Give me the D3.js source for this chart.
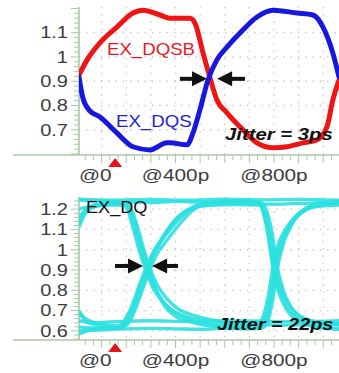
<!DOCTYPE html>
<html>
<head>
<meta charset="utf-8">
<script src="https://cdn.jsdelivr.net/npm/d3@7"></script>
<style>
  body { margin: 0; background: #fff; }
  svg { display: block; }
</style>
</head>
<body>
<svg id="chart" width="339" height="373"></svg>
<script>
// ---- time axis (ps) ----
const timeTicks = [0, 400, 800];
const timeTickLabels = ["@0", "@400p", "@800p"];
const markerTime = 155;

// ---- strobe panel (EX_DQS / EX_DQSB), volts ----
const strobeTicks = [1.1, 1.0, 0.9, 0.8, 0.7];
const strobeTickLabels = ["1.1", "1", "0.9", "0.8", "0.7"];

const dqsb = [
  [8, 0.926], [41, 0.988], [93, 1.058], [162, 1.123], [227, 1.181], [268, 1.193],
  [337, 1.173], [378, 1.16], [459, 1.16], [479, 1.14], [512, 1.016], [540, 0.914],
  [568, 0.823], [609, 0.77], [674, 0.70], [731, 0.646], [796, 0.626], [853, 0.63],
  [918, 0.646], [974, 0.658], [1015, 0.712], [1039, 0.823], [1064, 0.905]
];
const dqs = [
  [8, 0.918], [24, 0.83], [50, 0.78], [93, 0.753], [162, 0.687], [227, 0.630],
  [296, 0.617], [365, 0.646], [378, 0.646], [447, 0.638], [471, 0.687], [499, 0.782],
  [532, 0.905], [568, 0.988], [609, 1.041], [662, 1.099], [731, 1.165], [796, 1.193],
  [893, 1.181], [958, 1.173], [999, 1.123], [1039, 1.016], [1064, 0.918]
];
const strobeArrowTimes = [[418, 528], [682, 569]];
const strobeArrowLevel = 0.91;

// ---- data panel (EX_DQ eye), volts ----
const dataTicks = [1.2, 1.1, 1.0, 0.9, 0.8, 0.7, 0.6];
const dataTickLabels = ["1.2", "1.1", "1", "0.9", "0.8", "0.7", "0.6"];

const dqTraces = [
  [[8,1.13],[30,1.19],[70,1.22],[130,1.232],[193,1.228],[213,1.2],[238,1.1],[263,0.99],[288,0.9],[318,0.81],[353,0.74],[398,0.69],[468,0.65],[548,0.63],[650,0.622],[740,0.622],[760,0.65],[784,0.76],[804,0.92],[829,1.04],[854,1.1],[884,1.16],[924,1.2],[964,1.222],[1064,1.235]],
  [[8,0.69],[30,0.655],[80,0.628],[140,0.62],[186,0.62],[211,0.64],[241,0.72],[271,0.82],[296,0.9],[326,0.98],[361,1.04],[406,1.11],[466,1.19],[526,1.225],[650,1.242],[734,1.238],[756,1.19],[778,1.08],[798,0.92],[823,0.8],[848,0.73],[878,0.68],[918,0.645],[968,0.625],[1064,0.61]],
  [[8,1.245],[100,1.24],[200,1.235],[300,1.232],[400,1.238],[500,1.235],[600,1.24],[700,1.236],[749,1.232],[771,1.19],[793,1.08],[813,0.92],[838,0.8],[863,0.73],[893,0.685],[933,0.655],[983,0.64],[1064,0.63]],
  [[8,0.6],[100,0.605],[200,0.61],[300,0.612],[400,0.61],[500,0.608],[600,0.612],[700,0.61],[745,0.612],[765,0.645],[789,0.76],[809,0.92],[834,1.04],[859,1.1],[889,1.155],[929,1.195],[969,1.215],[1064,1.23]],
  [[8,1.11],[35,1.18],[80,1.215],[140,1.225],[184,1.222],[204,1.2],[229,1.1],[254,0.99],[279,0.9],[309,0.81],[344,0.75],[389,0.7],[459,0.665],[539,0.645],[700,0.632],[850,0.628],[1000,0.632],[1064,0.63]],
  [[8,0.585],[40,0.6],[100,0.615],[172,0.62],[197,0.645],[227,0.72],[257,0.82],[282,0.9],[312,0.98],[347,1.05],[392,1.12],[452,1.19],[512,1.22],[650,1.228],[800,1.225],[950,1.23],[1064,1.228]],
  [[8,1.2],[60,1.215],[150,1.22],[204,1.22],[224,1.19],[249,1.1],[274,0.99],[299,0.9],[329,0.82],[364,0.76],[409,0.71],[479,0.675],[569,0.65],[650,0.64],[732,0.64],[754,0.665],[776,0.77],[796,0.92],[821,1.04],[846,1.1],[876,1.15],[916,1.19],[956,1.21],[1064,1.22]],
  [[8,0.7],[25,0.67],[60,0.645],[120,0.63],[166,0.625],[191,0.65],[221,0.72],[251,0.82],[276,0.9],[306,0.98],[341,1.05],[386,1.13],[446,1.195],[506,1.215],[650,1.222],[742,1.22],[764,1.18],[786,1.08],[806,0.92],[831,0.8],[856,0.74],[886,0.69],[926,0.66],[976,0.645],[1064,0.635]],
  [[8,1.25],[150,1.245],[300,1.248],[450,1.244],[600,1.25],[750,1.246],[900,1.248],[1064,1.245]],
  [[8,0.65],[60,0.64],[150,0.645],[300,0.65],[450,0.647],[600,0.65],[750,0.648],[900,0.645],[1064,0.65]],
  [[8,1.16],[40,1.2],[90,1.225],[150,1.23],[197,1.228],[217,1.2],[242,1.1],[267,0.99],[292,0.9],[322,0.8],[357,0.72],[402,0.67],[472,0.64],[552,0.622],[680,0.615],[752,0.615],[774,0.645],[796,0.76],[816,0.92],[841,1.04],[866,1.11],[896,1.17],[936,1.21],[976,1.232],[1064,1.24]],
  [[8,0.62],[60,0.615],[130,0.615],[175,0.615],[200,0.635],[230,0.71],[260,0.81],[285,0.9],[315,0.99],[350,1.06],[395,1.14],[455,1.2],[515,1.228],[660,1.238],[730,1.235],[752,1.2],[774,1.08],[794,0.92],[819,0.79],[844,0.72],[874,0.67],[914,0.64],[964,0.62],[1064,0.608]]
];
const dataArrowTimes = [[154, 268], [410, 305]];
const dataArrowLevel = 0.92;

const jitterLabels = ["Jitter = 3ps", "Jitter = 22ps"];

// ---- layout ----
const svg = d3.select("#chart");
const axisColor = "#a9c8a4";
const gridColor = "#c9c4c4";
const x = d3.scaleLinear().domain([8, 1064]).range([79, 339]);
const x0 = x.range()[0], x1 = x.range()[1];

const panels = [
  { id: "strobe", top: 7, bottom: 155, domain: [0.596, 1.206], ticks: strobeTicks, labels: strobeTickLabels },
  { id: "data", top: 197, bottom: 340, domain: [0.555, 1.26], ticks: dataTicks, labels: dataTickLabels }
];
panels.forEach(p => {
  p.y = d3.scaleLinear().domain(p.domain).range([p.bottom, p.top]);
});

// text stretched horizontally around its anchor point
function stretchedText(parent, px, py, str, o) {
  return parent.append("g")
    .attr("transform", `translate(${px},${py}) scale(${o.sx},1)`)
    .append("text")
    .attr("text-anchor", o.anchor || "start")
    .attr("dy", o.dy || 0)
    .style("font-family", "'Liberation Sans', Arial, sans-serif")
    .style("font-size", (o.size || 16) + "px")
    .style("font-weight", o.weight || "normal")
    .style("font-style", o.italic ? "italic" : "normal")
    .attr("fill", o.fill || "#3c3c3c")
    .text(str);
}

function drawFrame(p) {
  const g = svg.append("g");
  const y = p.y;

  // dotted grid
  g.selectAll(".hgrid").data(p.ticks).join("line")
    .attr("x1", x0).attr("x2", x1)
    .attr("y1", d => y(d)).attr("y2", d => y(d))
    .attr("stroke", gridColor).attr("stroke-width", 1.3)
    .attr("stroke-dasharray", "1.3,6");
  g.selectAll(".vgrid").data(d3.range(100, 1064, 100)).join("line")
    .attr("x1", d => x(d)).attr("x2", d => x(d))
    .attr("y1", p.top).attr("y2", p.bottom)
    .attr("stroke", gridColor).attr("stroke-width", 1.3)
    .attr("stroke-dasharray", "1.3,6");

  // y axis with fine ticks
  g.append("line").attr("x1", x0).attr("x2", x0).attr("y1", p.top).attr("y2", p.bottom)
    .attr("stroke", axisColor).attr("stroke-width", 1.6);
  const yMinor = d3.range(Math.ceil(p.domain[0] * 50) / 50, p.domain[1], 0.02);
  g.selectAll(".ytick").data(yMinor).join("line")
    .attr("x1", d => Math.abs(d * 10 - Math.round(d * 10)) < 1e-6 ? x0 - 8 : x0 - 5)
    .attr("x2", x0)
    .attr("y1", d => y(d)).attr("y2", d => y(d))
    .attr("stroke", axisColor).attr("stroke-width", 1);

  // x axis with fine ticks
  g.append("line").attr("x1", 13).attr("x2", x1).attr("y1", p.bottom).attr("y2", p.bottom)
    .attr("stroke", axisColor).attr("stroke-width", 1.6);
  const xMinor = d3.range(0, 1064, 100 / 3).filter(t => x(t) >= x0 - 0.5);
  g.selectAll(".xtick").data(xMinor).join("line")
    .attr("x1", d => x(d)).attr("x2", d => x(d))
    .attr("y1", p.bottom)
    .attr("y2", d => p.bottom + (Math.round(d) % 100 === 0 ? 8 : 5))
    .attr("stroke", axisColor).attr("stroke-width", 1);

  // y tick labels
  p.ticks.forEach((v, i) => {
    stretchedText(g, 68, y(v), p.labels[i], { sx: 1.25, anchor: "end", dy: "0.36em", size: 16 });
  });

  // x tick labels
  timeTicks.forEach((t, i) => {
    const px = x(t);
    const atLeft = px < x0 + 10;
    stretchedText(g, atLeft ? x0 : px, p.bottom + 26, timeTickLabels[i],
      { sx: 1.3, anchor: atLeft ? "start" : "middle", size: 16 });
  });

  // trigger marker
  const mx = x(markerTime);
  g.append("path")
    .attr("d", `M${mx - 7},${p.bottom + 12} L${mx + 7},${p.bottom + 12} L${mx},${p.bottom + 3} Z`)
    .attr("fill", "#e8141c");

  // clip for the traces
  svg.append("clipPath").attr("id", "clip-" + p.id)
    .append("rect").attr("x", x0).attr("y", p.top - 6)
    .attr("width", x1 - x0).attr("height", p.bottom - p.top + 6);
  return g;
}

function drawArrows(g, times, level, y) {
  const yy = y(level);
  times.forEach(([tail, tip]) => {
    const a = x(tail), b = x(tip);
    const dir = Math.sign(b - a);
    const head = 15, half = 7.5;
    g.append("line")
      .attr("x1", a).attr("x2", b - dir * head + dir)
      .attr("y1", yy).attr("y2", yy)
      .attr("stroke", "#111").attr("stroke-width", 4);
    g.append("path")
      .attr("d", `M${b},${yy} L${b - dir * head},${yy - half} L${b - dir * head},${yy + half} Z`)
      .attr("fill", "#111");
  });
}

// ---- strobe panel ----
const pS = panels[0];
drawFrame(pS);
const lineS = d3.line().x(d => x(d[0])).y(d => pS.y(d[1])).curve(d3.curveMonotoneX);
const tracesS = svg.append("g").attr("clip-path", "url(#clip-strobe)");
tracesS.append("path").datum(dqsb).attr("d", lineS)
  .attr("fill", "none").attr("stroke", "#ee1515").attr("stroke-width", 5)
  .attr("stroke-linejoin", "round").attr("stroke-linecap", "round");
tracesS.append("path").datum(dqs).attr("d", lineS)
  .attr("fill", "none").attr("stroke", "#1717e0").attr("stroke-width", 5)
  .attr("stroke-linejoin", "round").attr("stroke-linecap", "round");

const annS = svg.append("g");
stretchedText(annS, 107, 55, "EX_DQSB", { sx: 1.13, size: 16.5, fill: "#e8191e" });
stretchedText(annS, 116, 127, "EX_DQS", { sx: 1.13, size: 16.5, fill: "#1f1fd2" });
drawArrows(annS, strobeArrowTimes, strobeArrowLevel, pS.y);
stretchedText(annS, 225, 140, jitterLabels[0], { sx: 1.27, size: 16, weight: "bold", italic: true, fill: "#111" });

// ---- data eye panel ----
const pD = panels[1];
drawFrame(pD);
const lineD = d3.line().x(d => x(d[0])).y(d => pD.y(d[1])).curve(d3.curveMonotoneX);
const tracesD = svg.append("g").attr("clip-path", "url(#clip-data)");
tracesD.selectAll("path").data(dqTraces).join("path")
  .attr("d", lineD)
  .attr("fill", "none").attr("stroke", "#2ee0e0").attr("stroke-width", 3.3)
  .attr("stroke-opacity", 0.9)
  .attr("stroke-linejoin", "round");

const annD = svg.append("g");
stretchedText(annD, 86, 213, "EX_DQ", { sx: 1.1, size: 16.5, fill: "#111" });
drawArrows(annD, dataArrowTimes, dataArrowLevel, pD.y);
stretchedText(annD, 217, 330, jitterLabels[1], { sx: 1.24, size: 16, weight: "bold", italic: true, fill: "#111" });
</script>
</body>
</html>
